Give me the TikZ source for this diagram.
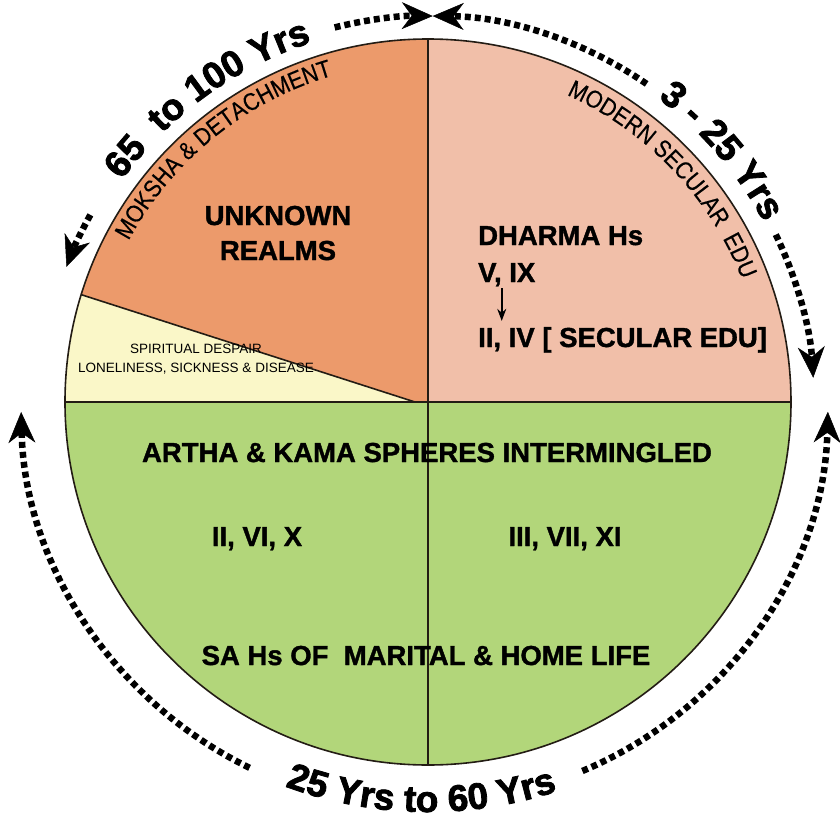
\documentclass[tikz,border=0pt]{standalone}
\usepackage{fontspec}
\setmainfont{Liberation Sans}[BoldFeatures={FakeBold=1.3}]
\newfontfamily\narrowsans[FakeStretch=0.88,FakeBold=0.4]{Liberation Sans}
\newfontfamily\agesans[BoldFeatures={FakeBold=2.2}]{Liberation Sans}
\usetikzlibrary{arrows.meta,decorations.text}

\definecolor{mokshafill}{RGB}{236,154,107}
\definecolor{dharmafill}{RGB}{241,191,169}
\definecolor{arthafill}{RGB}{178,214,122}
\definecolor{despairfill}{RGB}{250,247,200}
\definecolor{rim}{RGB}{35,28,20}

\tikzset{
  rimline/.style={draw=rim, line width=1.6pt},
  heading/.style={font=\fontsize{27.5}{35}\selectfont\bfseries, inner sep=2pt},
  smallnote/.style={font=\fontsize{13.5}{19}\selectfont, align=center, inner sep=1pt},
  ageline/.style={line width=6.5pt, dash pattern=on 6pt off 4pt,
    -{Stealth[length=31pt,width=27pt,inset=10pt,line width=0.5pt]}},
  pointer/.style={line width=1.6pt, -{Stealth[length=12pt,width=9pt]}}
}

\begin{document}
\begin{tikzpicture}[x=1pt,y=1pt]

    \useasboundingbox[fill=white] (-428,-418) rectangle (412,402);

    % Sectors
    \fill[mokshafill] (0,0) -- (90:363pt) arc[start angle=90, end angle=180, radius=363pt] -- cycle;
    \fill[dharmafill] (0,0) -- (0:363pt) arc[start angle=0, end angle=90, radius=363pt] -- cycle;
    \fill[arthafill] (180:363pt) arc[start angle=180, end angle=360, radius=363pt] -- cycle;
    \fill[despairfill] (-13,0) -- (162.8:363pt) arc[start angle=162.8, end angle=180, radius=363pt] -- cycle;

    % Outline
    \draw[rimline] (0,0) circle[radius=363pt];
    \draw[rimline] (90:363pt) -- (270:363pt);
    \draw[rimline] (180:363pt) -- (0:363pt);
    \draw[rimline] (162.8:363pt) -- (-13,0);

    % Age arrows
    \draw[ageline] (104:386pt) arc[start angle=104, end angle=89.3, radius=386pt];
    \draw[ageline] (151:386pt) arc[start angle=151, end angle=159.5, radius=386pt];
    \draw[ageline] (55.5:386pt) arc[start angle=55.5, end angle=89.3, radius=386pt];
    \draw[ageline] (25.7:386pt) arc[start angle=25.7, end angle=3.6, radius=386pt];
    \draw[ageline] (244:407pt) arc[start angle=244, end angle=181.4, radius=407pt];
    \draw[ageline] (292.7:400pt) arc[start angle=292.7, end angle=358.6, radius=400pt];

    % Age labels
    \path[decorate, decoration={text along path, text align=center,
        text={|\agesans\bfseries\fontsize{37}{40}\selectfont|65 {\ }to 100 Yrs}}]
        (146:378pt) arc[start angle=146, end angle=106, radius=378pt];
    \path[decorate, decoration={text along path, text align=center,
        text={|\agesans\bfseries\fontsize{37}{40}\selectfont|3 - 25 Yrs}}]
        (60:381pt) arc[start angle=60, end angle=21, radius=381pt];
    \path[decorate, decoration={text along path, text align=center,
        text={|\agesans\bfseries\fontsize{37}{40}\selectfont|25 Yrs to 60 Yrs}}]
        (245:410pt) arc[start angle=245, end angle=293, radius=410pt];

    % Rim labels
    \path[decorate, decoration={text along path, text align=center,
        text={|\narrowsans\fontsize{24.5}{26}\selectfont|MOKSHA {\&} DETACHMENT}}]
        (152:340pt) arc[start angle=152, end angle=106, radius=340pt];
    \path[decorate, decoration={text along path, text align=center,
        text={|\narrowsans\fontsize{24.5}{26}\selectfont|MODERN SECULAR {\ }EDU}}]
        (67:337pt) arc[start angle=67, end angle=20, radius=337pt];

    % Sector texts
    \node[heading, align=center, anchor=base] (unknown) at (-150,142) {UNKNOWN\\REALMS};
    \node[smallnote, anchor=base] (despair) at (-232,30) {SPIRITUAL DESPAIR\\LONELINESS, SICKNESS \& DISEASE};

    \node[heading, anchor=base west] (dharmahs) at (48,157) {DHARMA Hs};
    \node[heading, anchor=base west] (vix) at (48,120) {V, IX};
    \node[heading, anchor=base west] (secular) at (48,55) {II, IV [ SECULAR EDU]};
    \draw[pointer] ([xshift=-5pt]vix.south) -- ([xshift=-5pt,yshift=4pt]vix.south |- secular.north);

    \node[heading, anchor=base] (spheres) at (-1,-60) {ARTHA \& KAMA SPHERES INTERMINGLED};
    \node[heading, anchor=base] (artha) at (-171,-144) {II, VI, X};
    \node[heading, anchor=base] (kama) at (137,-144) {III, VII, XI};
    \node[heading, anchor=base] (home) at (-2,-263) {SA Hs OF\ \ MARITAL \& HOME LIFE};

\end{tikzpicture}
\end{document}
